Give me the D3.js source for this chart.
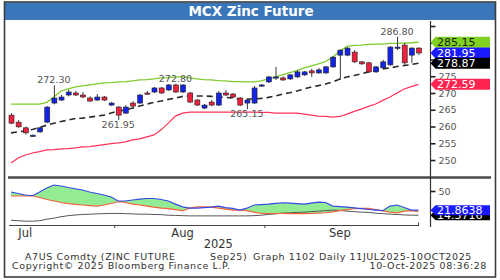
<!DOCTYPE html>
<html>
<head>
<meta charset="utf-8">
<script src="https://cdn.jsdelivr.net/npm/d3@7"></script>
<style>
  body { margin: 0; background: #fff; }
  svg { display: block; font-family: 'DejaVu Sans', Verdana, sans-serif; }
</style>
</head>
<body>
<script>
// trading days, Sep25 contract (11 Jul - 30 Sep 2025)
const dates = [
  '2025-07-11','2025-07-14','2025-07-15','2025-07-16','2025-07-17','2025-07-18','2025-07-21','2025-07-22','2025-07-23','2025-07-24',
  '2025-07-25','2025-07-28','2025-07-29','2025-07-30','2025-07-31','2025-08-01','2025-08-04','2025-08-05','2025-08-06','2025-08-07',
  '2025-08-08','2025-08-11','2025-08-12','2025-08-13','2025-08-14','2025-08-15','2025-08-18','2025-08-19','2025-08-20','2025-08-21',
  '2025-08-22','2025-08-25','2025-08-26','2025-08-27','2025-08-28','2025-08-29','2025-09-01','2025-09-02','2025-09-03','2025-09-04',
  '2025-09-05','2025-09-08','2025-09-09','2025-09-10','2025-09-11','2025-09-12','2025-09-15','2025-09-16','2025-09-17','2025-09-18',
  '2025-09-19','2025-09-22','2025-09-23','2025-09-24','2025-09-25','2025-09-26','2025-09-29','2025-09-30'
];

const open = [263.4,261.3,259.6,257.2,258.4,261.3,267.0,267.9,269.4,270.0,
  269.4,268.5,267.9,268.8,266.4,265.8,264.0,267.0,267.0,270.0,
  270.3,271.5,270.9,272.4,270.3,270.0,267.9,265.5,267.3,266.4,
  270.0,269.7,268.5,267.0,267.0,272.1,273.3,274.5,274.5,274.2,
  274.8,275.4,276.6,276.0,276.0,277.8,281.3,281.3,282.2,279.3,
  279.0,276.3,277.5,278.4,283.4,284.3,281.3,283.4];
const high = [264.0,261.9,260.0,257.6,259.9,266.1,272.3,269.4,271.0,270.6,
  270.3,269.0,269.7,269.1,267.3,266.1,266.4,267.6,269.7,270.6,
  271.8,271.8,272.7,272.8,272.6,270.3,268.2,266.7,267.9,270.6,
  270.9,270.0,268.8,268.2,272.1,272.7,275.1,277.8,275.0,275.7,
  276.9,276.6,277.2,277.5,278.1,281.0,283.0,283.7,282.8,279.6,
  279.3,278.1,279.9,284.0,286.8,285.0,283.7,283.7];
const low = [260.7,259.6,257.6,256.9,258.1,261.0,266.6,267.6,269.0,269.1,
  268.5,267.3,267.6,267.6,266.1,261.95,263.7,265.8,266.7,269.4,
  270.0,269.7,270.6,270.0,270.0,267.0,266.1,265.2,266.1,266.1,
  269.1,268.5,266.1,265.15,266.7,271.8,273.0,273.9,273.6,273.9,
  274.5,275.1,274.8,275.7,275.7,277.5,273.9,281.0,279.0,278.4,
  276.0,276.0,277.2,278.1,282.8,278.4,279.0,281.3];
const close = [261.0,259.9,258.1,257.4,259.6,265.8,268.5,268.8,270.3,269.4,
  268.8,267.6,268.8,267.9,267.0,263.4,265.8,266.1,269.4,269.7,
  271.5,270.0,272.4,270.3,272.4,267.3,266.4,266.4,266.4,270.0,
  269.4,268.8,266.4,267.9,271.5,272.4,274.8,274.8,273.9,275.4,
  276.3,276.3,276.0,276.9,277.8,280.7,282.8,283.4,279.3,278.7,
  276.3,277.8,279.3,283.7,283.7,279.0,283.4,281.95];

// bollinger bands
const bbUpper = [266.7,266.7,266.7,266.7,266.7,267.2,268.8,270.6,271.2,271.8,
  272.1,272.4,272.7,273.0,273.1,273.3,273.4,273.6,273.9,274.0,
  274.2,274.5,274.6,274.8,274.8,274.5,274.2,274.0,273.9,273.7,
  273.6,273.4,273.4,273.3,273.3,273.6,274.2,274.8,275.5,276.1,
  276.7,277.5,278.1,278.7,279.4,280.7,282.5,283.9,284.2,284.3,
  284.5,284.6,284.6,284.8,284.8,284.9,285.0,285.15];
const bbMid = [258.1,258.4,258.7,259.1,259.7,260.4,261.0,261.5,261.9,262.4,
  262.5,262.8,263.1,263.4,264.0,264.6,264.9,265.5,266.1,266.7,
  267.2,267.6,268.1,268.5,269.0,269.1,269.1,269.1,269.0,268.8,
  268.7,268.5,268.2,268.2,268.2,268.4,268.7,269.1,269.7,270.1,
  270.6,271.2,271.8,272.2,272.7,273.3,274.2,274.8,275.2,275.7,
  276.3,276.7,277.2,277.5,277.9,278.2,278.5,278.87];
const bbLower = [249.1,250.6,251.5,252.1,252.5,253.0,253.1,253.3,253.4,253.6,
  253.9,254.0,254.3,254.6,254.9,255.1,255.4,256.0,256.3,256.9,
  257.5,259.0,261.0,263.1,264.0,264.3,264.3,264.3,264.3,264.3,
  264.3,264.3,264.3,264.3,264.3,264.2,264.2,264.0,264.0,264.0,
  264.0,263.7,263.4,263.1,263.0,262.8,263.0,263.7,264.5,265.2,
  266.0,266.7,267.8,268.8,270.0,271.2,271.9,272.59];

// DMI panel
const diPlus = [48.5,46.3,44.1,43.0,48.5,54.4,58.9,57.4,55.2,53.4,
  51.5,48.5,46.3,44.1,41.1,35.2,35.2,36.7,38.1,38.9,
  38.9,37.4,35.2,30.7,26.7,24.8,24.8,25.6,26.3,27.8,
  25.6,24.4,21.9,24.8,29.3,30.0,30.7,31.8,32.7,32.2,
  31.5,30.7,32.2,33.7,33.0,27.8,27.0,26.3,25.2,24.1,
  22.9,21.9,21.1,27.8,29.3,25.6,21.9,21.86];
const diMinus = [42.6,42.6,42.6,43.0,40.4,37.4,35.2,33.0,31.5,30.4,
  29.3,28.5,27.8,29.3,31.5,34.1,33.0,30.7,29.3,27.8,
  26.3,24.8,24.1,22.6,21.1,24.8,26.7,26.7,26.3,24.8,
  23.3,21.9,21.9,21.1,18.9,17.0,17.0,17.0,17.0,16.7,
  16.7,16.7,17.0,17.4,18.1,19.3,21.1,22.6,23.8,24.4,
  24.4,22.6,20.8,18.9,17.9,20.4,21.1,19.6];
const adx = [7.0,6.3,5.6,5.6,6.3,8.5,10.0,12.2,13.7,14.7,
  15.5,15.9,16.4,16.7,17.0,17.0,16.7,16.4,15.9,15.9,
  15.5,15.2,14.4,14.1,13.7,13.4,13.4,13.4,13.4,13.4,
  13.4,13.4,13.4,13.4,13.7,14.4,15.5,16.4,17.4,17.9,
  18.5,18.9,19.6,20.4,21.1,21.9,21.5,20.4,19.6,18.9,
  18.5,17.4,16.7,15.9,15.5,14.8,14.4,14.4];

const priceTicks = [250, 255, 260, 265, 270, 275, 280, 285, 290];
// 280 / 285 sit under the value tags, 290 has no label
const priceTickLabels = ['250', '255', '260', '265', '270', '275', '', '', ''];
const dmiTicks = [50];

const extremes = [
  { date: '2025-07-21', value: 272.30, text: '272.30', side: 'high' },
  { date: '2025-08-01', value: 261.95, text: '261.95', side: 'low' },
  { date: '2025-08-13', value: 272.80, text: '272.80', side: 'high' },
  { date: '2025-08-27', value: 265.15, text: '265.15', side: 'low' },
  { date: '2025-09-25', value: 286.80, text: '286.80', side: 'high' }
];

const priceTags = [
  { value: 285.15, text: '285.15', fill: '#7fd21f', color: '#1b1b1b' },
  { value: 281.95, text: '281.95', fill: '#1a1aff', color: '#fff' },
  { value: 278.87, text: '278.87', fill: '#000', color: '#fff' },
  { value: 272.59, text: '272.59', fill: '#ff2450', color: '#fff' }
];
const dmiTags = [
  { value: 14.3716, text: '14.3716', fill: '#000', color: '#fff' },
  { value: 21.8638, text: '21.8638', fill: '#1a1aff', color: '#fff' }
];

const monthLabels = [
  { date: '2025-07-15', text: 'Jul' },
  { date: '2025-08-14', text: 'Aug' },
  { date: '2025-09-15', text: 'Sep' }
];
const monthStarts = ['2025-08-01', '2025-09-01'];

const w = 500, h = 280;
const axisX = 430.5;

const svg = d3.select('body').append('svg').attr('width', w).attr('height', h);
svg.append('rect').attr('width', w).attr('height', h).attr('fill', '#fff');

const x = d3.scalePoint().domain(dates).range([11, 418.5]);
const yP = d3.scaleLinear().domain([250, 290]).range([160, 26]);
const yI = d3.scaleLinear().domain([0, 50]).range([225, 191]);

// title bar + frame
svg.append('rect').attr('x', 4.5).attr('y', 2.5).attr('width', 491).attr('height', 17.5).attr('fill', '#3a76ba');
svg.append('text').text('MCX Zinc Future')
   .attr('x', 251).attr('y', 16).attr('text-anchor', 'middle')
   .attr('fill', '#fff').style('font-size', '13.5px').style('font-weight', 'bold');
svg.append('rect').attr('x', 4.5).attr('y', 2).attr('width', 491).attr('height', 275)
   .attr('fill', 'none').attr('stroke', '#3c3c3c').attr('stroke-width', 1.6);

// bollinger bands
const bandLine = (arr) => d3.line().x((d, i) => x(dates[i])).y((d) => yP(d))(arr);
svg.append('path').attr('d', bandLine(bbLower)).attr('fill', 'none').attr('stroke', '#ff3358').attr('stroke-width', 1.2);
svg.append('path').attr('d', bandLine(bbUpper)).attr('fill', 'none').attr('stroke', '#7ccc2a').attr('stroke-width', 1.3);
svg.append('path').attr('d', bandLine(bbMid)).attr('fill', 'none').attr('stroke', '#2a2a2a')
   .attr('stroke-width', 1.6).attr('stroke-dasharray', '6,4');

// candles
const candles = dates.map((d, i) => ({ date: d, o: open[i], h: high[i], l: low[i], c: close[i] }));
const cg = svg.append('g');
cg.selectAll('line')
  .data(candles)
  .enter()
  .append('line')
  .attr('x1', (d) => x(d.date) + 0.5)
  .attr('x2', (d) => x(d.date) + 0.5)
  .attr('y1', (d) => yP(d.h))
  .attr('y2', (d) => yP(d.l))
  .attr('stroke', '#3a3a3a')
  .attr('stroke-width', 1);
cg.selectAll('rect')
  .data(candles)
  .enter()
  .append('rect')
  .attr('x', (d) => x(d.date) - 2)
  .attr('y', (d) => yP(Math.max(d.o, d.c)))
  .attr('width', 5)
  .attr('height', (d) => Math.max(1.2, Math.abs(yP(d.o) - yP(d.c))))
  .attr('fill', (d) => d.c >= d.o ? '#1424e6' : '#f0203e')
  .attr('stroke', '#222')
  .attr('stroke-width', 0.6);

// high / low annotations
svg.selectAll('text.ext')
   .data(extremes)
   .enter()
   .append('text')
   .attr('class', 'ext')
   .text((d) => d.text)
   .attr('x', (d) => x(d.date))
   .attr('y', (d) => d.side === 'high' ? yP(d.value) - 2 : yP(d.value) + 8)
   .attr('text-anchor', 'middle')
   .attr('fill', '#555')
   .style('font-size', '9.5px');

// separator between panels
svg.append('line').attr('x1', 8).attr('x2', 491).attr('y1', 177.5).attr('y2', 177.5)
   .attr('stroke', '#4a4a4a').attr('stroke-width', 2.6);

// DMI panel
const lineI = (arr) => d3.line().x((d, i) => x(dates[i])).y((d) => yI(d))(arr);
const between = d3.area().x((d, i) => x(dates[i])).y0((d, i) => yI(diMinus[i])).y1((d, i) => yI(diPlus[i]));
const aboveRed = d3.area().x((d, i) => x(dates[i])).y0(179).y1((d, i) => yI(diMinus[i]));
svg.append('clipPath').attr('id', 'plusUp').append('path').attr('d', aboveRed(dates));
svg.append('path').attr('d', between(dates)).attr('fill', '#93ec93').attr('clip-path', 'url(#plusUp)');
svg.append('path').attr('d', lineI(adx)).attr('fill', 'none').attr('stroke', '#555').attr('stroke-width', 1);
svg.append('path').attr('d', lineI(diMinus)).attr('fill', 'none').attr('stroke', '#f2603c').attr('stroke-width', 1.1);
svg.append('path').attr('d', lineI(diPlus)).attr('fill', 'none').attr('stroke', '#3548e8').attr('stroke-width', 1.1);

// x axis
svg.append('line').attr('x1', 9).attr('x2', 419).attr('y1', 225.5).attr('y2', 225.5).attr('stroke', '#444').attr('stroke-width', 1.2);
svg.append('line').attr('x1', 418.5).attr('x2', 418.5).attr('y1', 225.5).attr('y2', 222.5).attr('stroke', '#444');
svg.selectAll('line.mtick')
   .data(monthStarts)
   .enter()
   .append('line')
   .attr('x1', (d) => x(d) - 3.5).attr('x2', (d) => x(d) - 3.5)
   .attr('y1', 225.5).attr('y2', 228)
   .attr('stroke', '#444');
svg.selectAll('text.month')
   .data(monthLabels)
   .enter()
   .append('text')
   .text((d) => d.text)
   .attr('x', (d) => x(d.date))
   .attr('y', 237)
   .attr('text-anchor', 'middle')
   .attr('fill', '#333')
   .style('font-size', '11.5px');
svg.append('text').text('2025').attr('x', x('2025-08-21')).attr('y', 248)
   .attr('text-anchor', 'middle').attr('fill', '#333').style('font-size', '11.5px');

// right axis
svg.append('line').attr('x1', axisX).attr('x2', axisX).attr('y1', 21).attr('y2', 227).attr('stroke', '#333').attr('stroke-width', 1.2);
const pAxis = d3.axisRight(yP).tickValues(priceTicks).tickSize(5).tickPadding(3)
                .tickFormat((d, i) => priceTickLabels[i]);
svg.append('g').attr('transform', 'translate(' + axisX + ',0)').style('font-size', '9.5px').call(pAxis)
   .call((g) => g.select('.domain').remove())
   .call((g) => g.selectAll('line').attr('stroke', '#222').attr('stroke-width', 1.6))
   .call((g) => g.selectAll('text').attr('fill', '#555').style('font-family', "'DejaVu Sans', sans-serif"));
const iAxis = d3.axisRight(yI).tickValues(dmiTicks).tickSize(5).tickPadding(3);
svg.append('g').attr('transform', 'translate(' + axisX + ',0)').style('font-size', '9.5px').call(iAxis)
   .call((g) => g.select('.domain').remove())
   .call((g) => g.selectAll('line').attr('stroke', '#222').attr('stroke-width', 1.6))
   .call((g) => g.selectAll('text').attr('fill', '#555').style('font-family', "'DejaVu Sans', sans-serif"));

// last value tags
function tag(yc, t, hh) {
  const g = svg.append('g');
  g.append('path')
   .attr('d', 'M' + axisX + ',' + yc + ' L' + (axisX + 5) + ',' + (yc - hh / 2) + ' L490,' + (yc - hh / 2) +
              ' L490,' + (yc + hh / 2) + ' L' + (axisX + 5) + ',' + (yc + hh / 2) + ' Z')
   .attr('fill', t.fill);
  g.append('text').text(t.text).attr('x', 437).attr('y', yc + 4)
   .attr('fill', t.color).style('font-size', '11px');
}
priceTags.forEach((t) => tag(yP(t.value), t, 11));
dmiTags.forEach((t) => tag(yI(t.value), t, 10));

// footer
const foot = (t, xx, yy, anchor) => svg.append('text').text(t).attr('x', xx).attr('y', yy)
  .attr('text-anchor', anchor || 'start').attr('fill', '#333')
  .style('font-size', '9.5px').style('letter-spacing', '0.6px');
foot('A7US Comdty (ZINC FUTURE', 25, 260);
foot('Sep25)', 210, 260);
foot('Graph 1102 Daily 11JUL2025-10OCT2025', 253, 260);
foot('Copyright\u00a9 2025 Bloomberg Finance L.P.', 12, 269);
foot('10-Oct-2025 08:36:28', 487, 269, 'end');
</script>
</body>
</html>
